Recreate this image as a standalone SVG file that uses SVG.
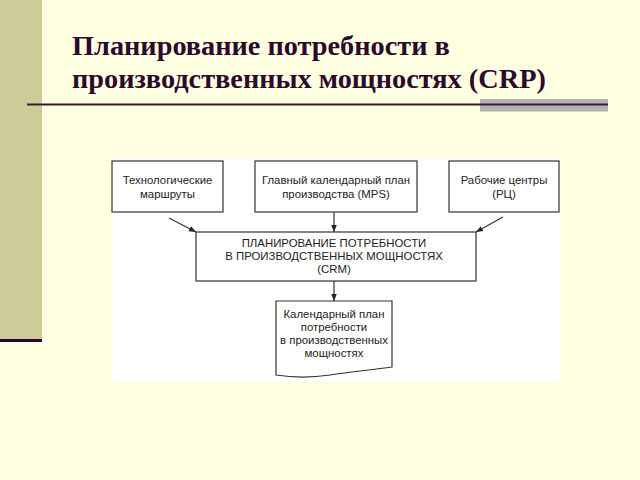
<svg xmlns="http://www.w3.org/2000/svg" width="640" height="480" viewBox="0 0 640 480">
<defs>
<style>
.bg{fill:#FFFFE1}
.title{font-family:"Liberation Serif","Times New Roman",serif;font-weight:bold;font-size:28.3px;fill:#2B0A2B}
.box{fill:#FFFFFF;stroke:#333333;stroke-width:1.2}
.t{font-family:"Liberation Sans",Arial,sans-serif;font-size:11.4px;fill:#222222;text-anchor:middle}
.conn{stroke:#333333;stroke-width:1.2;fill:none;marker-end:url(#arr)}
</style>
<marker id="arr" viewBox="0 0 10 10" refX="10" refY="5" markerWidth="7" markerHeight="7" markerUnits="userSpaceOnUse" orient="auto">
<path d="M0,1 L10,5 L0,9 Z" fill="#222222"/>
</marker>
</defs>
<rect class="bg" x="0" y="0" width="640" height="480"/>
<rect x="0" y="0" width="42" height="340" fill="#CCCC99"/>
<rect x="0" y="339" width="42" height="3" fill="#330033"/>
<rect x="480" y="99" width="128" height="12.5" fill="#B2B2B2"/>
<line x1="27" y1="104.5" x2="608" y2="104.5" stroke="#3A1A3A" stroke-width="2"/>
<text class="title" x="72" y="55">Планирование потребности в</text>
<text class="title" x="72" y="88">производственных мощностях (CRP)</text>
<rect x="112" y="158" width="448" height="223" fill="#FFFFFF"/>
<g id="n1">
<rect class="box" x="112" y="161" width="111" height="51"/>
<text class="t" x="167.5" y="184">Технологические</text>
<text class="t" x="167.5" y="198">маршруты</text>
</g>
<g id="n2">
<rect class="box" x="255" y="161" width="162" height="51"/>
<text class="t" x="336" y="184">Главный календарный план</text>
<text class="t" x="336" y="198">производства (MPS)</text>
</g>
<g id="n3">
<rect class="box" x="449" y="161" width="110" height="51"/>
<text class="t" x="504" y="184">Рабочие центры</text>
<text class="t" x="504" y="198">(РЦ)</text>
</g>
<g id="n4">
<rect class="box" x="196" y="232" width="280" height="49"/>
<text class="t" x="334" y="247">ПЛАНИРОВАНИЕ ПОТРЕБНОСТИ</text>
<text class="t" x="334" y="260">В ПРОИЗВОДСТВЕННЫХ МОЩНОСТЯХ</text>
<text class="t" x="334" y="273">(CRM)</text>
</g>
<g id="n5">
<path class="box" d="M276,301 L392,301 L392,367 C370,370 350,372 330,375 C310,378 295,378 276,375 Z"/>
<text class="t" x="334" y="318">Календарный план</text>
<text class="t" x="334" y="331">потребности</text>
<text class="t" x="334" y="344">в производственных</text>
<text class="t" x="334" y="357">мощностях</text>
</g>
<g id="connectors">
<line class="conn" x1="169" y1="218" x2="196" y2="232"/>
<line class="conn" x1="334" y1="212" x2="334" y2="232"/>
<line class="conn" x1="503" y1="217" x2="476" y2="232"/>
<line class="conn" x1="334" y1="281" x2="334" y2="301"/>
</g>
</svg>
